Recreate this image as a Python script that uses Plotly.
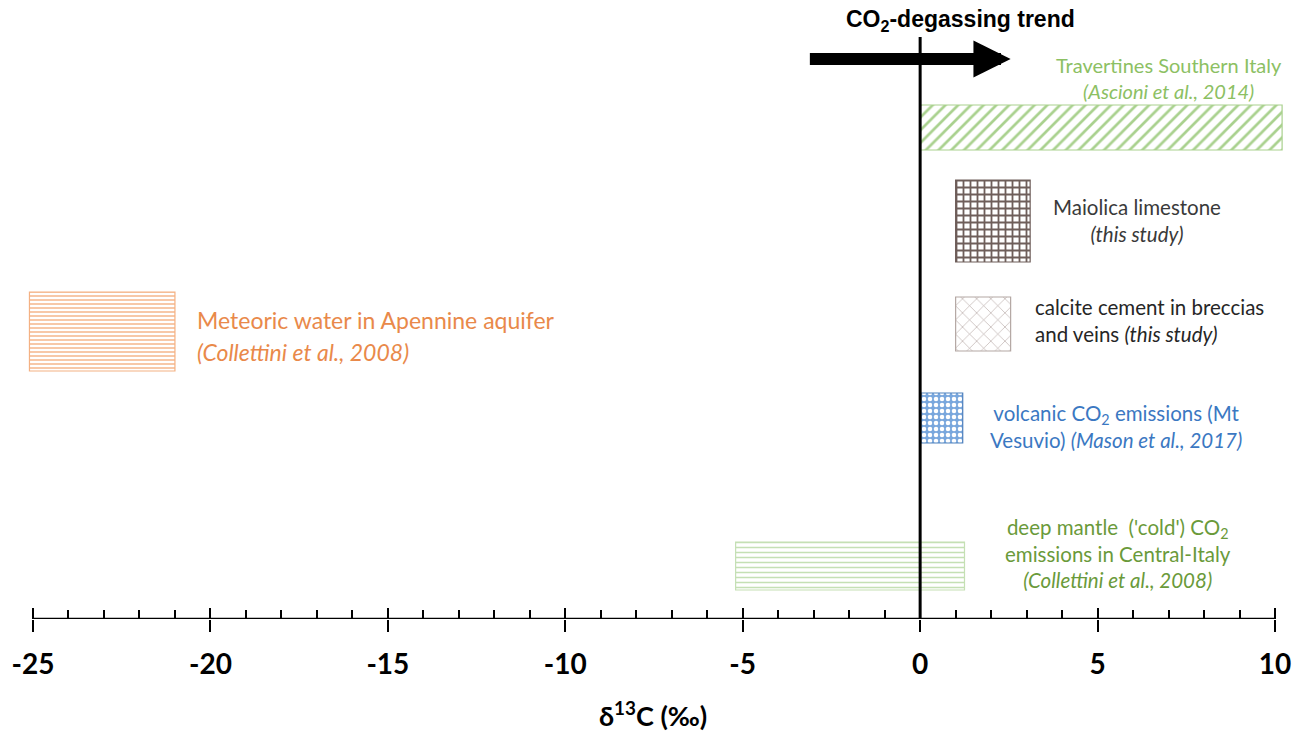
import plotly.graph_objects as go

# ---------------- data ----------------
groups = [
    "Travertines Southern Italy",
    "Maiolica limestone",
    "calcite cement in breccias and veins",
    "volcanic CO2 emissions (Mt Vesuvio)",
    "deep mantle ('cold') CO2 emissions in Central-Italy",
    "Meteoric water in Apennine aquifer",
]
d13c_min = [0.0, 1.0, 1.0, 0.0, -5.2, -25.1]
d13c_max = [10.2, 3.1, 2.55, 1.2, 1.25, -21.0]
tick_values = [-25, -20, -15, -10, -5, 0, 5, 10]
tick_labels = ["-25", "-20", "-15", "-10", "-5", "0", "5", "10"]
degassing_from = -3.15
degassing_to = 2.55

# ---------------- layout helpers ----------------
W, H = 1304, 734
L, R, T, B = 15, 12, 30, 115
X0_PX, X1_PX = 33, 1275          # screen positions of -25 and 10
K = (X1_PX - X0_PX) / 35.0
XRANGE = [-25 - (X0_PX - L) / K, 10 + (W - R - X1_PX) / K]
PLOT_H = H - T - B


def yd(py):
    return (H - B) - py


def xp(px):
    return (px - L) / (W - L - R)


def yp(py):
    return (H - B - py) / PLOT_H


# bar rows (top, bottom in screen px)
rows = [(105, 150), (180, 262), (297, 351), (393, 443), (542, 590), (292, 371)]
styles = [
    dict(shape="/", fg="#A9D18E", bg="#FFFFFF", size=9, sol=0.3, line="#A9D18E"),
    dict(shape="+", fg="#6E5E5A", bg="#FFFFFF", size=7, sol=0.45, line="#6E5E5A"),
    dict(shape="x", fg="#B4A7A3", bg="#FFFFFF", size=10, sol=0.12, line="#B4A7A3"),
    dict(shape=".", fg="#FFFFFF", bg="#79A7DD", size=6, sol=0.45, line="#4F81BD"),
    dict(shape="-", fg="#C5E0B4", bg="#FFFFFF", size=5, sol=0.3, line="#C5E0B4"),
    dict(shape="-", fg="#F4B183", bg="#FFFFFF", size=4, sol=0.35, line="#F4B183"),
]

fig = go.Figure()
for name, lo, hi, (top, bot), st in zip(groups, d13c_min, d13c_max, rows, styles):
    fig.add_trace(go.Bar(
        orientation="h", name=name,
        y=[yd((top + bot) / 2)], x=[hi - lo], base=[lo], width=[bot - top],
        marker=dict(color=st["bg"],
                    line=dict(color=st["line"], width=1.2),
                    pattern=dict(shape=st["shape"], fgcolor=st["fg"], bgcolor=st["bg"],
                                 size=st["size"], solidity=st["sol"], fillmode="replace")),
        showlegend=False, hoverinfo="skip",
    ))

# dummy trace for the overlaid tick axis
fig.add_trace(go.Scatter(x=[], y=[], xaxis="x2", showlegend=False))

FONT = "Lato, 'Open Sans', sans-serif"

fig.update_layout(
    width=W, height=H, autosize=False,
    margin=dict(l=L, r=R, t=T, b=B, autoexpand=False),
    paper_bgcolor="white", plot_bgcolor="white",
    barmode="overlay",
    xaxis=dict(range=XRANGE, showgrid=False, zeroline=False, showline=False,
               automargin=False,
               tickmode="array", tickvals=tick_values, ticktext=tick_labels,
               ticks="outside", ticklen=12, tickwidth=2, tickcolor="black",
               tickfont=dict(family=FONT, size=28, color="black", weight="bold"),
               ticklabelstandoff=8,
               minor=dict(ticks="inside", ticklen=9, tickwidth=2, tickcolor="black",
                          tickmode="array", tickvals=[v for v in range(-25, 11) if v % 5])),
    xaxis2=dict(range=XRANGE, overlaying="x", anchor="y", side="bottom",
                automargin=False,
                showgrid=False, zeroline=False, showline=False, showticklabels=False,
                tickmode="array", tickvals=tick_values,
                ticks="inside", ticklen=11, tickwidth=2, tickcolor="black"),
    yaxis=dict(range=[0, PLOT_H], visible=False, fixedrange=True),
)

# axis baseline and zero line
fig.add_shape(type="line", xref="x", yref="y", x0=tick_values[0], x1=tick_values[-1],
              y0=0, y1=0, line=dict(color="black", width=2.5))
fig.add_shape(type="line", xref="x", yref="y", x0=0, x1=0, y0=0, y1=yd(37),
              line=dict(color="black", width=3))

# degassing arrow
fig.add_annotation(x=degassing_to, y=yd(59), ax=degassing_from, ay=yd(59),
                   xref="x", yref="y", axref="x", ayref="y", text="",
                   showarrow=True, arrowhead=2, arrowsize=0.62, arrowwidth=12,
                   arrowcolor="black", standoff=0)

RS = 20.5
anns = [
    # text, x px, y px, align, xanchor, color, size
    ("CO<sub>2</sub>-degassing trend", 960, 20, "center", "center", "black", 23,
     "'Liberation Sans', Arial, sans-serif", "bold"),
    ("Travertines Southern Italy<br><i>(Ascioni et al., 2014)</i>", 1169, 78, "center", "center",
     "#8CC063", 20, FONT, "normal"),
    ("Maiolica limestone<br><i>(this study)</i>", 1137, 221, "center", "center",
     "#3A3A3A", RS, FONT, "normal"),
    ("calcite cement in breccias<br>and veins <i>(this study)</i>", 1033, 320, "left", "left",
     "#262626", RS, FONT, "normal"),
    ("volcanic CO<sub>2</sub> emissions (Mt<br>Vesuvio) <i>(Mason et al., 2017)</i>", 1116, 426,
     "center", "center", "#3B78C2", RS, FONT, "normal"),
    ("deep mantle  ('cold') CO<sub>2</sub><br>emissions in Central-Italy<br><i>(Collettini et al., 2008)</i>",
     1118, 553, "center", "center", "#6A9A3A", RS, FONT, "normal"),
    ("Meteoric water in Apennine aquifer", 195, 320, "left", "left", "#E9894A", 23, FONT, "normal"),
    ("<i>(Collettini et al., 2008)</i>", 195, 352, "left", "left", "#E9894A", 23, FONT, "normal"),
    ("δ<sup>13</sup>C (‰)", 653, 714, "center", "center", "black", 27, FONT, "bold"),
]
for text, px, py, align, xanchor, color, size, fam, weight in anns:
    fig.add_annotation(text=text, x=xp(px), y=yp(py), xref="paper", yref="paper",
                       xanchor=xanchor, yanchor="middle", align=align, showarrow=False,
                       font=dict(family=fam, size=size, color=color, weight=weight))

fig.write_html("out.html", config={"displayModeBar": False},
               post_script="document.body.style.margin='0';document.body.style.overflow='hidden';")
